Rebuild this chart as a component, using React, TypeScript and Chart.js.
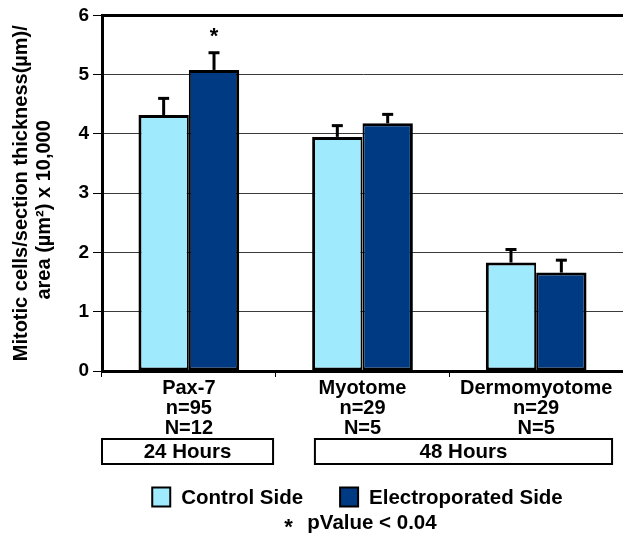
import React, { useEffect, useRef } from 'react';
import { Chart, registerables } from 'chart.js';

Chart.register(...registerables);

const categories = ['Pax-7', 'Myotome', 'Dermomyotome'];
const sampleSizes = ['n=95', 'n=29', 'n=29'];
const embryoCounts = ['N=12', 'N=5', 'N=5'];
const seriesNames = ['Control Side', 'Electroporated Side'];
const controlValues = [4.32, 3.95, 1.83];
const controlErrors = [0.28, 0.19, 0.22];
const electroValues = [5.08, 4.18, 1.66];
const electroErrors = [0.29, 0.15, 0.21];
const electroSignificant = [true, false, false];
const timeGroups = ['24 Hours', '48 Hours'];
const yTitle = ['Mitotic cells/section thickness(\u00B5m)/', 'area (\u00B5m\u00B2) x 10,000      '];
const footnote = 'pValue < 0.04';
const yMin = 0;
const yMax = 6;

const FONT = '"Liberation Sans", Arial, Helvetica, sans-serif';
const LIGHT = '#A0EAFE';
const NAVY = '#003A82';

// box extents in category units (layout only)
const groupSpans = [
  [-0.5, 0.485],
  [0.726, 2.437],
];

const overlayPlugin = {
  id: 'overlay',
  afterDatasetsDraw(chart: any) {
    const { ctx } = chart;
    const y = chart.scales.y;
    const errs = [controlErrors, electroErrors];
    chart.data.datasets.forEach((ds: any, d: number) => {
      const meta = chart.getDatasetMeta(d);
      meta.data.forEach((bar: any, i: number) => {
        const v = ds.data[i];
        const top = y.getPixelForValue(v);
        const cap = y.getPixelForValue(v + errs[d][i]);
        ctx.save();
        ctx.strokeStyle = '#000';
        ctx.lineWidth = 3;
        ctx.beginPath();
        ctx.moveTo(bar.x, top);
        ctx.lineTo(bar.x, cap);
        ctx.stroke();
        ctx.beginPath();
        ctx.moveTo(bar.x - 5.5, cap);
        ctx.lineTo(bar.x + 5.5, cap);
        ctx.stroke();
        if (d === 1 && electroSignificant[i]) {
          ctx.fillStyle = '#000';
          ctx.font = 'bold 22px ' + FONT;
          ctx.textAlign = 'center';
          ctx.textBaseline = 'alphabetic';
          ctx.fillText('*', bar.x, cap - 10);
        }
        ctx.restore();
      });
    });
  },
  afterDraw(chart: any) {
    const { ctx, chartArea } = chart;
    const x = chart.scales.x;
    ctx.save();
    ctx.font = 'bold 20.5px ' + FONT;
    ctx.fillStyle = '#000';
    ctx.strokeStyle = '#000';
    // time group boxes
    timeGroups.forEach((label, g) => {
      const l = x.getPixelForValue(groupSpans[g][0]);
      const r = x.getPixelForValue(groupSpans[g][1]);
      const t = 439;
      const h = 25;
      ctx.fillStyle = '#fff';
      ctx.fillRect(l, t, r - l, h);
      ctx.lineWidth = 2;
      ctx.strokeRect(l, t, r - l, h);
      ctx.fillStyle = '#000';
      ctx.textAlign = 'center';
      ctx.textBaseline = 'middle';
      ctx.fillText(label, (l + r) / 2, t + h / 2 + 1);
    });
    // legend
    const items = chart.data.datasets.map((ds: any) => ({
      label: ds.label,
      color: ds.backgroundColor,
      w: ctx.measureText(ds.label).width,
    }));
    const box = 18;
    const gapText = 11;
    const gapItems = 37;
    const total =
      items.reduce((s: number, it: any) => s + box + gapText + it.w, 0) + gapItems * (items.length - 1);
    let lx = (chartArea.left + chartArea.right) / 2 - 5 - total / 2;
    const ly = 497;
    items.forEach((it: any) => {
      ctx.fillStyle = it.color;
      ctx.fillRect(lx, ly - 9.5, box, 19);
      ctx.lineWidth = 2;
      ctx.strokeStyle = '#000';
      ctx.strokeRect(lx, ly - 9.5, box, 19);
      ctx.fillStyle = '#000';
      ctx.textAlign = 'left';
      ctx.textBaseline = 'middle';
      ctx.fillText(it.label, lx + box + gapText, ly + 1);
      lx += box + gapText + it.w + gapItems;
    });
    // footnote
    const fw = ctx.measureText(footnote).width;
    const starGap = 23;
    const fx = (chartArea.left + chartArea.right) / 2 - 2 - (fw + starGap) / 2;
    ctx.textAlign = 'left';
    ctx.textBaseline = 'middle';
    ctx.fillText(footnote, fx + starGap, 523);
    ctx.font = 'bold 22px ' + FONT;
    ctx.textBaseline = 'alphabetic';
    ctx.fillText('*', fx, 534);
    ctx.restore();
  },
};

export default function App() {
  const ref = useRef<HTMLCanvasElement | null>(null);
  useEffect(() => {
    if (!ref.current) return;
    const labels = categories.map((c, i) => [c, sampleSizes[i], embryoCounts[i]]);
    const chart = new Chart(ref.current, {
      type: 'bar',
      data: {
        labels,
        datasets: [
          {
            label: seriesNames[0],
            data: controlValues,
            backgroundColor: LIGHT,
            borderColor: '#000',
            borderWidth: { left: 3, top: 3, right: 2, bottom: 3 },
            borderSkipped: false,
            categoryPercentage: 0.58,
            barPercentage: 1,
          },
          {
            label: seriesNames[1],
            data: electroValues,
            backgroundColor: NAVY,
            borderColor: '#000',
            borderWidth: { left: 2, top: 3, right: 3, bottom: 3 },
            borderSkipped: false,
            categoryPercentage: 0.58,
            barPercentage: 1,
          },
        ],
      },
      options: {
        animation: false,
        responsive: false,
        devicePixelRatio: 1,
        layout: { padding: { left: 0, right: 0, top: 13, bottom: 95 } },
        plugins: {
          legend: { display: false },
          tooltip: { enabled: false },
        },
        scales: {
          x: {
            border: { color: '#000', width: 3 },
            grid: {
              display: true,
              drawOnChartArea: false,
              drawTicks: true,
              tickLength: 6,
              tickColor: '#000',
              tickWidth: 1,
              offset: true,
            },
            ticks: {
              color: '#000',
              padding: 1,
              maxRotation: 0,
              autoSkip: false,
              font: { family: FONT, size: 20, weight: 'bold', lineHeight: 1.0 },
            },
          },
          y: {
            min: yMin,
            max: yMax,
            afterFit: (s: any) => {
              s.width = 102;
            },
            border: { color: '#000', width: 3 },
            grid: {
              color: (c: any) => (c.tick && c.tick.value === yMax ? '#000' : '#3a3a3a'),
              lineWidth: (c: any) => (c.tick && c.tick.value === yMax ? 3 : 1),
              tickLength: 9,
              tickColor: '#000',
              tickWidth: 1,
            },
            ticks: {
              stepSize: 1,
              color: '#000',
              padding: 4,
              font: { family: FONT, size: 19, weight: 'bold' },
            },
            title: {
              display: true,
              text: yTitle,
              color: '#000',
              font: { family: FONT, size: 20, weight: 'bold', lineHeight: 1.15 },
              padding: { top: 10, bottom: 0 },
            },
          },
        },
      },
      plugins: [overlayPlugin],
    } as any);
    return () => chart.destroy();
  }, []);
  return (
    <div style={{ position: 'fixed', left: 0, top: 0, width: 623, height: 534, background: '#fff' }}>
      <canvas ref={ref} width={623} height={534} style={{ display: 'block' }} />
    </div>
  );
}
